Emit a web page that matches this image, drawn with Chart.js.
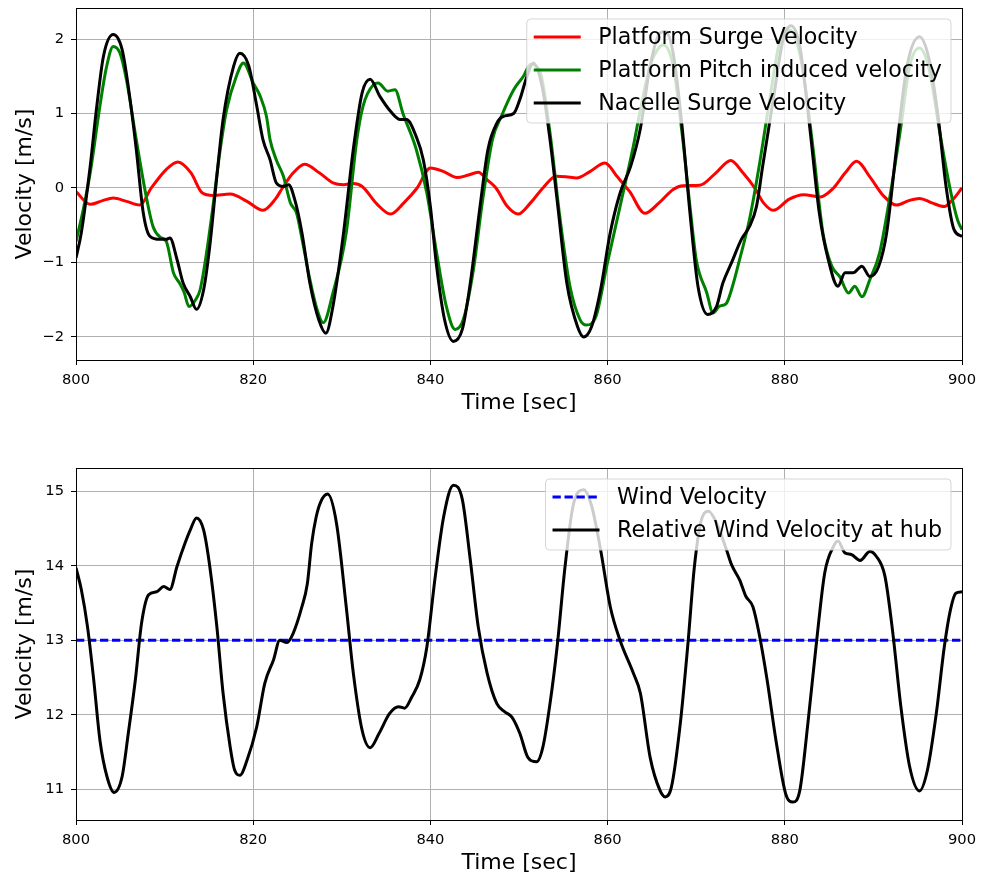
<!DOCTYPE html>
<html>
<head>
<meta charset="utf-8">
<script src="https://cdn.jsdelivr.net/npm/chart.js@4.4.1/dist/chart.umd.min.js"></script>
<style>
  body { margin: 0; background: #fff; }
  .panel { position: absolute; left: 0; width: 982px; height: 412px; overflow: hidden; }
  #topPanel { top: 0; }
  #bottomPanel { top: 460px; }
  canvas { display: block; }
</style>
</head>
<body>
<div id="topPanel" class="panel"><canvas id="topChart" width="982" height="416"></canvas></div>
<div id="bottomPanel" class="panel"><canvas id="bottomChart" width="982" height="416"></canvas></div>
<script>
const FONT = "'DejaVu Sans', sans-serif";

// axis ticks / limits
const xTicks = [800, 820, 840, 860, 880, 900];
const topYTicks = [-2, -1, 0, 1, 2];
const bottomYTicks = [11, 12, 13, 14, 15];
const topYMin = -2.31, topYMax = 2.417;
const bottomYMin = 10.59, bottomYMax = 15.31;

// Platform Surge Velocity
const surgeTime = [800, 801.6, 803, 804.2, 805.7, 807.2, 808.5, 810.2, 811.5, 813,
  814.2, 815.5, 817.4, 819.3, 821.1, 822.5, 823.3, 824.5, 825.8, 827.5,
  829, 830.2, 831.3, 832.3, 834, 835.5, 837, 838.5, 840, 841.5,
  843, 844.2, 845.4, 846.5, 847.4, 848.7, 849.9, 851.3, 852.7, 854.2,
  855.3, 856.5, 858, 859.7, 861.1, 862.5, 864.2, 865.8, 867.4, 868.5,
  870.4, 872.2, 873.9, 875.3, 876.6, 877.6, 878.7, 880.5, 882.1, 884,
  885.5, 886.8, 888.1, 889.6, 891.1, 892.6, 894, 895.2, 896.6, 898,
  899, 900];
const surgeVel = [-0.05, -0.22, -0.17, -0.135, -0.18, -0.23, 0.0, 0.25, 0.35, 0.2,
  -0.06, -0.1, -0.08, -0.18, -0.30, -0.15, 0.0, 0.2, 0.32, 0.2,
  0.07, 0.045, 0.06, 0.02, -0.22, -0.35, -0.2, 0.0, 0.27, 0.22,
  0.14, 0.17, 0.21, 0.1, 0.0, -0.25, -0.35, -0.2, 0.0, 0.157,
  0.15, 0.135, 0.22, 0.336, 0.15, -0.05, -0.34, -0.2, -0.02, 0.03,
  0.036, 0.2, 0.37, 0.2, 0.0, -0.2, -0.30, -0.15, -0.09, -0.12,
  0.0, 0.2, 0.36, 0.15, -0.1, -0.23, -0.17, -0.14, -0.2, -0.25,
  -0.15, 0.0];

// Platform Pitch induced velocity
const pitchTime = [800, 800.8, 801.6, 802.7, 803.4, 804.2, 805, 805.7, 806.8, 808,
  808.7, 809.5, 810.2, 811, 811.7, 812.2, 812.75, 813.5, 814, 814.7,
  815.4, 816.2, 817, 818.1, 818.9, 820, 820.8, 821.5, 821.9, 822.6,
  823.4, 824.2, 824.9, 825.6, 826.4, 827.2, 827.9, 829, 830.5, 831.7,
  832.4, 833.6, 834.1, 835.2, 836, 836.9, 838.4, 839.6, 840.7, 841.8,
  842.8, 843.7, 844.8, 845.9, 847, 848, 849.4, 850.5, 851.3, 852.4,
  853.5, 854.6, 855.75, 856.9, 857.6, 858.7, 859.9, 861.4, 862.9, 863.7,
  864.8, 865.9, 866.3, 867.4, 868.4, 869.3, 870, 871.2, 871.9, 872.6,
  873.4, 874.1, 874.9, 876, 877.1, 878.3, 879.4, 880.6, 881.6, 882.2,
  883.2, 884.3, 885.3, 886.2, 887.2, 887.9, 888.7, 889.6, 890.7, 891.8,
  893, 894.1, 895.2, 896.3, 897.5, 898.6, 899.5, 900];
const pitchVel = [-0.72, -0.3, 0.2, 1.1, 1.6, 1.9, 1.8, 1.45, 0.65, -0.16,
  -0.52, -0.66, -0.72, -1.14, -1.28, -1.4, -1.59, -1.5, -1.37, -0.9,
  -0.3, 0.45, 1.05, 1.5, 1.68, 1.41, 1.23, 0.96, 0.65, 0.38,
  0.16, -0.2, -0.34, -0.74, -1.23, -1.63, -1.81, -1.41, -0.6, 0.65,
  1.1, 1.39, 1.41, 1.3, 1.32, 1.0, 0.52, -0.07, -0.87, -1.59,
  -1.9, -1.77, -1.14, -0.16, 0.65, 0.96, 1.32, 1.5, 1.66, 1.55,
  0.74, -0.38, -1.32, -1.77, -1.84, -1.72, -1.05, -0.25, 0.56, 1.05,
  1.64, 1.9, 1.92, 1.64, 0.74, -0.25, -0.96, -1.41, -1.68, -1.59,
  -1.55, -1.32, -0.96, -0.43, 0.29, 1.19, 1.95, 2.12, 1.85, 1.45,
  0.52, -0.6, -1.05, -1.19, -1.41, -1.32, -1.46, -1.23, -0.87, -0.16,
  0.74, 1.64, 1.88, 1.59, 0.74, 0.02, -0.43, -0.56];

// Nacelle Surge Velocity
const nacelleTime = [800, 800.6, 801.6, 802.3, 803.1, 804.2, 805.2, 806.1, 806.8, 807.6,
  808.35, 809.5, 810.2, 810.6, 811.4, 812.1, 812.9, 813.6, 814.4, 815.1,
  815.9, 816.6, 817.8, 818.5, 819.5, 820.4, 821.1, 821.9, 822.6, 823.4,
  824, 824.7, 825.5, 826.4, 827.4, 828.2, 829, 830.2, 831.3, 832.3,
  833.2, 834.3, 835.5, 836.6, 837.3, 838.4, 839.2, 840, 840.7, 841.6,
  842.6, 843.6, 844.5, 845.6, 846.5, 847.5, 848.2, 849.4, 850.1, 850.9,
  851.6, 852.6, 853.5, 854.3, 855.4, 856.6, 857.3, 858.2, 859.2, 860.3,
  861.4, 862.6, 863.7, 864.8, 865.9, 866.5, 867.4, 868.4, 869.3, 870.2,
  871.3, 872.3, 873, 874, 875.1, 876, 876.8, 877.5, 878.7, 879.8,
  880.7, 881.7, 882.8, 883.9, 884.9, 886, 886.8, 887.7, 888.7, 889.6,
  890.6, 891.5, 892.6, 893.8, 895.2, 896.3, 897.3, 898.2, 899.1, 900];
const nacelleVel = [-0.94, -0.6, 0.29, 1.05, 1.77, 2.06, 1.86, 1.19, 0.52, -0.34,
  -0.65, -0.69, -0.69, -0.67, -0.96, -1.28, -1.46, -1.63, -1.37, -0.78,
  0.16, 0.92, 1.64, 1.81, 1.64, 1.1, 0.65, 0.38, 0.07, 0.02,
  0.045, -0.16, -0.6, -1.28, -1.77, -1.95, -1.59, -0.6, 0.52, 1.28,
  1.46, 1.23, 1.03, 0.92, 0.92, 0.69, 0.38, -0.25, -1.05, -1.77,
  -2.06, -1.9, -1.28, -0.25, 0.52, 0.87, 0.96, 1.0, 1.19, 1.5,
  1.68, 1.37, 0.65, -0.16, -1.28, -1.86, -2.0, -1.86, -1.37, -0.6,
  -0.07, 0.29, 0.8, 1.64, 2.08, 2.1, 1.81, 0.83, -0.34, -1.32,
  -1.7, -1.59, -1.28, -1.0, -0.69, -0.52, -0.25, 0.29, 1.19, 1.99,
  2.18, 1.9, 0.83, -0.34, -0.96, -1.32, -1.14, -1.14, -1.05, -1.19,
  -1.05, -0.6, 0.52, 1.64, 2.03, 1.72, 0.96, 0.02, -0.56, -0.65];

// Wind Velocity
const windTime = [800, 900];
const windVel = [13, 13];

// Relative Wind Velocity at hub
const relTime = [800, 800.6, 801.3, 802, 802.7, 803.5, 804.3, 805.2, 805.9, 806.7,
  807.4, 808.2, 809.1, 809.9, 810.6, 811.4, 812.3, 812.9, 813.6, 814.4,
  815.1, 815.9, 816.6, 817.4, 817.9, 818.5, 819.3, 820.4, 821.3, 822.3,
  823, 823.8, 824.5, 825.5, 826.1, 826.6, 827.1, 827.6, 828.4, 829.4,
  830.5, 831.3, 832.3, 833.2, 834.2, 835.4, 836.4, 837.1, 837.9, 838.8,
  839.6, 840.5, 841.5, 842.6, 843.6, 844.5, 845.4, 846.4, 847.5, 848.4,
  849.2, 850.1, 851, 852, 852.7, 853.5, 854.3, 855.2, 856.1, 857.3,
  858.2, 859.2, 860.3, 861.4, 862.9, 863.7, 864.8, 865.9, 866.5, 867.2,
  868.2, 869.1, 869.8, 870.6, 871.4, 872.3, 873.4, 874, 874.9, 875.6,
  876.4, 877.1, 878, 879, 880.1, 880.9, 881.7, 882.6, 883.6, 884.5,
  885.5, 886, 886.8, 887.5, 888.5, 889.6, 890.3, 891.3, 892.2, 893.1,
  894.1, 895.2, 896.1, 897.1, 898, 898.7, 899.3, 900];
const relVel = [13.97, 13.68, 13.18, 12.47, 11.66, 11.17, 10.96, 11.17, 11.75, 12.47,
  13.23, 13.61, 13.65, 13.72, 13.68, 13.99, 14.3, 14.48, 14.64, 14.48,
  13.99, 13.18, 12.29, 11.57, 11.26, 11.19, 11.39, 11.84, 12.42, 12.74,
  13.0, 12.97, 13.09, 13.45, 13.75, 14.3, 14.65, 14.85, 14.96, 14.57,
  13.45, 12.56, 11.79, 11.56, 11.75, 12.02, 12.11, 12.09, 12.24, 12.47,
  12.91, 13.81, 14.66, 15.08, 14.89, 14.08, 13.18, 12.56, 12.15, 12.04,
  11.97, 11.75, 11.43, 11.37, 11.57, 12.15, 12.91, 13.99, 14.8, 15.02,
  14.8, 14.22, 13.45, 13.0, 12.56, 12.29, 11.43, 10.99, 10.9, 11.03,
  11.88, 13.0, 13.99, 14.62, 14.73, 14.57, 14.22, 14.01, 13.81, 13.59,
  13.45, 13.09, 12.47, 11.66, 10.94, 10.83, 10.99, 11.88, 13.0, 13.9,
  14.26, 14.33, 14.17, 14.15, 14.07, 14.19, 14.13, 13.86, 13.09, 12.11,
  11.3, 10.98, 11.26, 12.02, 12.91, 13.41, 13.63, 13.65];

function toPoints(times, values) {
  return times.map((t, i) => ({ x: t, y: values[i] }));
}

function tickLabel(v) {
  return v < 0 ? '\u2212' + Math.abs(v) : String(v);
}

// black frame on all four sides, then a matplotlib-like legend box in the upper right
const frameAndLegend = {
  id: 'frameAndLegend',
  afterDraw(chart) {
    const ctx = chart.ctx;
    const a = chart.chartArea;
    ctx.save();
    ctx.strokeStyle = '#000';
    ctx.lineWidth = 1;
    ctx.strokeRect(Math.round(a.left) + 0.5, Math.round(a.top) + 0.5,
      Math.round(a.right - a.left), Math.round(a.bottom - a.top));

    const rows = chart.data.datasets;
    ctx.font = '22.2px ' + FONT;
    const textW = Math.max(...rows.map(d => ctx.measureText(d.label).width));
    const boxW = 7 + 47 + 17.5 + textW + 9;
    const boxH = rows.length * 33 + 5;
    const right = a.right - 11;
    const top = a.top + 11;
    const left = right - boxW;

    ctx.beginPath();
    ctx.roundRect(left, top, boxW, boxH, 4);
    ctx.fillStyle = 'rgba(255,255,255,0.8)';
    ctx.fill();
    ctx.strokeStyle = 'rgba(204,204,204,0.8)';
    ctx.stroke();

    rows.forEach((d, i) => {
      const y = top + 18 + 33 * i;
      ctx.beginPath();
      ctx.setLineDash(d.borderDash || []);
      ctx.strokeStyle = d.borderColor;
      ctx.lineWidth = d.borderWidth;
      ctx.moveTo(left + 7, y);
      ctx.lineTo(left + 54, y);
      ctx.stroke();
      ctx.setLineDash([]);
      ctx.fillStyle = '#000';
      ctx.textAlign = 'left';
      ctx.textBaseline = 'middle';
      ctx.fillText(d.label, left + 71.5, y + 1);
    });
    ctx.restore();
  }
};

// pin the axis boxes so the plot area lands where the reference has it
function fixX(s) {
  s.height = 56;
  s.paddingLeft = 0;
  s.paddingRight = 0;
}
function fixY(s) {
  s.width = 76;
  s.paddingTop = 0;
  s.paddingBottom = 0;
}

function makeChart(id, datasets, yTicks, yMin, yMax) {
  return new Chart(document.getElementById(id), {
    type: 'line',
    data: { datasets: datasets },
    options: {
      responsive: false,
      animation: false,
      devicePixelRatio: 1,
      layout: { padding: { left: 0, right: 20, top: 8, bottom: 0 } },
      plugins: { legend: { display: false }, tooltip: { enabled: false } },
      elements: {
        point: { radius: 0 },
        line: { borderJoinStyle: 'round', cubicInterpolationMode: 'monotone' }
      },
      scales: {
        x: {
          type: 'linear', min: 800, max: 900,
          afterBuildTicks: s => { s.ticks = xTicks.map(v => ({ value: v })); },
          afterFit: fixX,
          grid: { color: '#b0b0b0', lineWidth: 1, tickLength: 5, tickColor: '#000', tickWidth: 1 },
          border: { display: false },
          ticks: { color: '#000', font: { family: FONT, size: 14.7 }, padding: 6, maxRotation: 0, callback: tickLabel },
          title: { display: true, text: 'Time [sec]', color: '#000', font: { family: FONT, size: 22 }, padding: 0 }
        },
        y: {
          type: 'linear', min: yMin, max: yMax,
          afterBuildTicks: s => { s.ticks = yTicks.map(v => ({ value: v })); },
          afterFit: fixY,
          grid: { color: '#b0b0b0', lineWidth: 1, tickLength: 5, tickColor: '#000', tickWidth: 1 },
          border: { display: false },
          ticks: { color: '#000', font: { family: FONT, size: 14.7 }, padding: 7, callback: tickLabel },
          title: { display: true, text: 'Velocity [m/s]', color: '#000', font: { family: FONT, size: 22 }, padding: { top: 12, bottom: 0 } }
        }
      }
    },
    plugins: [frameAndLegend]
  });
}

makeChart('topChart', [
  { label: 'Platform Surge Velocity', data: toPoints(surgeTime, surgeVel), borderColor: '#ff0000', borderWidth: 3, order: 3 },
  { label: 'Platform Pitch induced velocity', data: toPoints(pitchTime, pitchVel), borderColor: '#008000', borderWidth: 3, order: 2 },
  { label: 'Nacelle Surge Velocity', data: toPoints(nacelleTime, nacelleVel), borderColor: '#000000', borderWidth: 3, order: 1 }
], topYTicks, topYMin, topYMax);

makeChart('bottomChart', [
  { label: 'Wind Velocity', data: toPoints(windTime, windVel), borderColor: '#0000ff', borderWidth: 3, borderDash: [8.3, 3.7], order: 2 },
  { label: 'Relative Wind Velocity at hub', data: toPoints(relTime, relVel), borderColor: '#000000', borderWidth: 3, order: 1 }
], bottomYTicks, bottomYMin, bottomYMax);
</script>
</body>
</html>
